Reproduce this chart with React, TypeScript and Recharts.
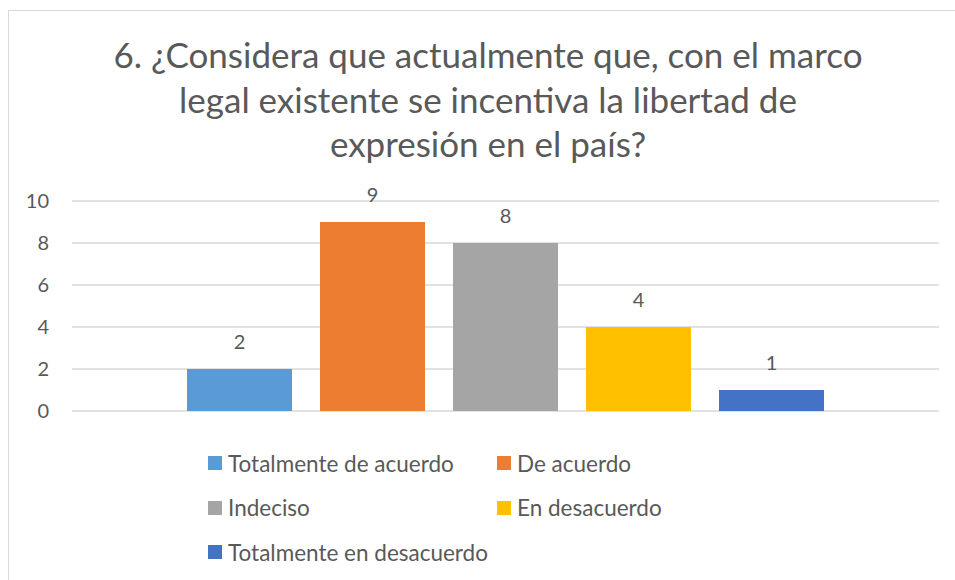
import React from "react";
import { BarChart, Bar, XAxis, YAxis, CartesianGrid, LabelList } from "recharts";

const seriesNames = ["Totalmente de acuerdo", "De acuerdo", "Indeciso", "En desacuerdo", "Totalmente en desacuerdo"];
const seriesKeys = ["s1", "s2", "s3", "s4", "s5"];
const seriesValues = [2, 9, 8, 4, 1];
const seriesColors = ["#5B9BD5", "#ED7D31", "#A5A5A5", "#FFC000", "#4472C4"];
const yTicks = [0, 2, 4, 6, 8, 10];
const titleLines = [
  "6. ¿Considera que actualmente que, con el marco",
  "legal existente se incentiva la libertad de",
  "expresión en el país?",
];

const row: Record<string, string | number> = { name: "" };
seriesKeys.forEach((k, i) => {
  row[k] = seriesValues[i];
});
const data = [row];

const FONT = "Lato, 'Open Sans', sans-serif";
const TEXT = "#595959";

const LegendBlock = () => {
  const items = seriesNames.map((n, i) => ({ n, c: seriesColors[i] }));
  const rows = [items.slice(0, 2), items.slice(2, 4), items.slice(4)];
  return (
    <>
      {rows.map((r, ri) =>
        r.map((it, ci) => (
          <div
            key={it.n}
            style={{
              position: "absolute",
              left: ci === 0 ? 208 : 497,
              top: 451 + ri * 44.5,
              height: 24,
              display: "flex",
              alignItems: "center",
              fontFamily: FONT,
              fontSize: 22.5,
              color: TEXT,
              whiteSpace: "nowrap",
            }}
          >
            <span style={{ display: "inline-block", width: 14, height: 14, background: it.c, marginRight: 6 }} />
            {it.n}
          </div>
        ))
      )}
    </>
  );
};

export default function App() {
  return (
    <div style={{ position: "fixed", left: 0, top: 0, width: 955, height: 580, overflow: "hidden", background: "#fff" }}>
      <div
        style={{
          position: "absolute",
          left: 8,
          top: 10,
          width: 980,
          height: 600,
          border: "1px solid #d9d9d9",
          boxSizing: "border-box",
        }}
      />
      {titleLines.map((t, i) => (
        <div
          key={i}
          style={{
            position: "absolute",
            left: 0,
            width: 976,
            top: 32 + i * 44.5,
            textAlign: "center",
            fontFamily: FONT,
            fontSize: 35,
            lineHeight: "44px",
            color: TEXT,
            whiteSpace: "nowrap",
          }}
        >
          {t}
        </div>
      ))}
      <div style={{ position: "absolute", left: 0, top: 0 }}>
        <BarChart
          width={955}
          height={580}
          data={data}
          margin={{ top: 201, right: 16, bottom: 169, left: 0 }}
          barSize={105}
          barGap={28}
        >
          <CartesianGrid vertical={false} stroke="#d9d9d9" strokeWidth={1.3} />
          <XAxis dataKey="name" hide />
          <YAxis
            domain={[0, 10]}
            ticks={yTicks}
            interval={0}
            width={72}
            axisLine={false}
            tickLine={false}
            tickSize={0}
            tickMargin={23}
            tick={{ fill: TEXT, fontSize: 20, fontFamily: FONT }}
          />
          {seriesKeys.map((k, i) => (
            <Bar key={k} dataKey={k} name={seriesNames[i]} fill={seriesColors[i]} isAnimationActive={false}>
              <LabelList
                dataKey={k}
                position="top"
                offset={20}
                style={{ fill: TEXT, fontSize: 20, fontFamily: FONT }}
              />
            </Bar>
          ))}
        </BarChart>
      </div>
      <LegendBlock />
    </div>
  );
}
